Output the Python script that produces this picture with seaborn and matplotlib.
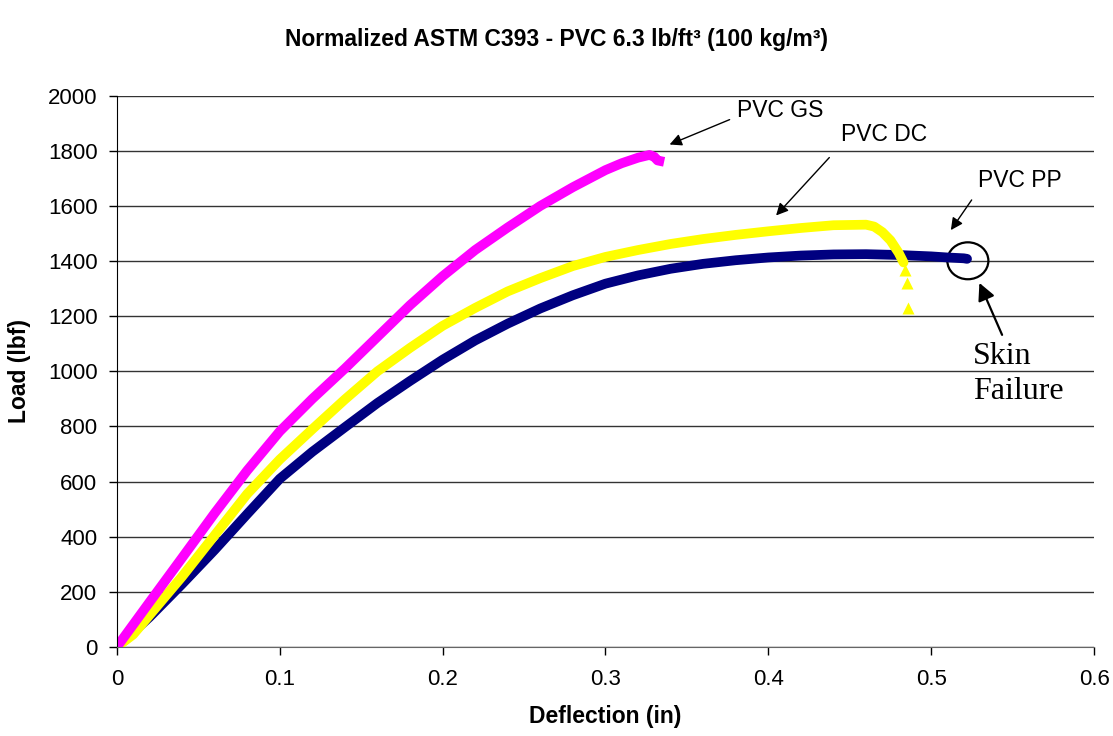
import pandas as pd
import seaborn as sns
import matplotlib.pyplot as plt
from matplotlib.patches import Ellipse

# PVC GS (magenta)
gs_defl = [0, 0.02, 0.04, 0.06, 0.08, 0.10, 0.12, 0.14, 0.16, 0.18, 0.20, 0.22,
           0.24, 0.26, 0.28, 0.30, 0.31, 0.32, 0.327, 0.330, 0.332, 0.336]
gs_load = [0, 162, 323, 485, 640, 782, 900, 1010, 1125, 1240, 1345, 1440,
           1522, 1600, 1668, 1730, 1755, 1775, 1785, 1778, 1765, 1760]

# PVC DC (yellow)
dc_defl = [0, 0.01, 0.02, 0.04, 0.06, 0.08, 0.10, 0.12, 0.14, 0.16, 0.18, 0.20,
           0.22, 0.24, 0.26, 0.28, 0.30, 0.32, 0.34, 0.36, 0.38, 0.40, 0.42,
           0.44, 0.46, 0.465, 0.47, 0.475, 0.48, 0.483]
dc_load = [0, 45, 115, 255, 405, 555, 680, 790, 898, 1000, 1085, 1165,
           1230, 1290, 1338, 1382, 1415, 1440, 1462, 1480, 1495, 1508, 1520,
           1530, 1532, 1525, 1505, 1475, 1430, 1395]
dc_tail_defl = [0.484, 0.485, 0.486]
dc_tail_load = [1366, 1322, 1228]

# PVC PP (navy)
pp_defl = [0, 0.02, 0.04, 0.06, 0.08, 0.10, 0.12, 0.14, 0.16, 0.18, 0.20, 0.22,
           0.24, 0.26, 0.28, 0.30, 0.32, 0.34, 0.36, 0.38, 0.40, 0.42, 0.44,
           0.46, 0.48, 0.50, 0.51, 0.52, 0.522]
pp_load = [0, 108, 228, 352, 482, 610, 708, 797, 885, 965, 1042, 1112,
           1173, 1228, 1276, 1318, 1348, 1372, 1390, 1403, 1413, 1420, 1424,
           1425, 1422, 1417, 1413, 1410, 1408]

sns.set_style("white")
plt.rcParams['font.family'] = ['Liberation Sans', 'DejaVu Sans']
plt.rcParams['text.color'] = 'black'
plt.rcParams['axes.labelcolor'] = 'black'
plt.rcParams['xtick.color'] = 'black'
plt.rcParams['ytick.color'] = 'black'

fig = plt.figure(figsize=(11.13, 7.36), dpi=100)
ax = fig.add_axes([0.105, 0.121, 0.878, 0.749])

lw = 7
sns.lineplot(x=pp_defl, y=pp_load, ax=ax, color='#000080', linewidth=lw,
             sort=False, estimator=None, solid_capstyle='round')
sns.lineplot(x=dc_defl, y=dc_load, ax=ax, color='#FFFF00', linewidth=lw,
             sort=False, estimator=None, solid_capstyle='round')
sns.scatterplot(x=dc_tail_defl, y=dc_tail_load, ax=ax, color='#FFFF00',
                marker='^', s=75, linewidth=0)
sns.lineplot(x=gs_defl, y=gs_load, ax=ax, color='#FF00FF', linewidth=lw,
             sort=False, estimator=None, solid_capstyle='butt')

ax.set_xlim(0, 0.6)
ax.set_ylim(0, 2000)
ax.set_xticks([0, 0.1, 0.2, 0.3, 0.4, 0.5, 0.6])
ax.set_xticklabels(['0', '0.1', '0.2', '0.3', '0.4', '0.5', '0.6'])
ax.set_yticks(range(0, 2001, 200))
ax.yaxis.grid(True, color='#333333', linewidth=1)
ax.set_axisbelow(True)
for s in ['top', 'right']:
    ax.spines[s].set_visible(False)
ax.spines['left'].set_color('black')
ax.spines['bottom'].set_color('#666666')
ax.tick_params(axis='both', direction='out', length=6, width=1, color='black',
               labelsize=16, left=True, bottom=True)
ax.tick_params(axis='y', pad=8)
ax.tick_params(axis='x', pad=10)

ax.set_xlabel('Deflection (in)', fontsize=16.5, fontweight='bold', labelpad=11)
ax.set_ylabel('Load (lbf)', fontsize=16.5, fontweight='bold', labelpad=12)
fig.suptitle('Normalized ASTM C393 - PVC 6.3 lb/ft\u00b3 (100 kg/m\u00b3)',
             fontsize=16.5, fontweight='bold', y=0.962)

arrow = dict(arrowstyle='-|>', color='black', lw=1, mutation_scale=18)
ax.annotate('', xy=(0.3378, 1819), xytext=(0.3778, 1917), arrowprops=arrow)
ax.text(0.4073, 1946, 'PVC GS', fontsize=16.5, ha='center', va='center')
ax.annotate('', xy=(0.4036, 1558), xytext=(0.4386, 1783), arrowprops=arrow)
ax.text(0.4711, 1859, 'PVC DC', fontsize=16.5, ha='center', va='center')
ax.annotate('', xy=(0.5111, 1504), xytext=(0.5258, 1630), arrowprops=arrow)
ax.text(0.5547, 1692, 'PVC PP', fontsize=16.5, ha='center', va='center')

ax.add_patch(Ellipse((0.5225, 1401), 0.0252, 134, fill=False,
                     edgecolor='black', linewidth=1.6, clip_on=False))
ax.annotate('', xy=(0.5289, 1330), xytext=(0.5442, 1123),
            arrowprops=dict(arrowstyle='-|>', color='black', lw=1.6,
                            mutation_scale=26))
ax.text(0.5258, 990, 'Skin\nFailure', fontsize=23, ha='left', va='center',
        family=['Liberation Serif', 'DejaVu Serif'], linespacing=1.3)

plt.savefig('out.png', dpi=100)
